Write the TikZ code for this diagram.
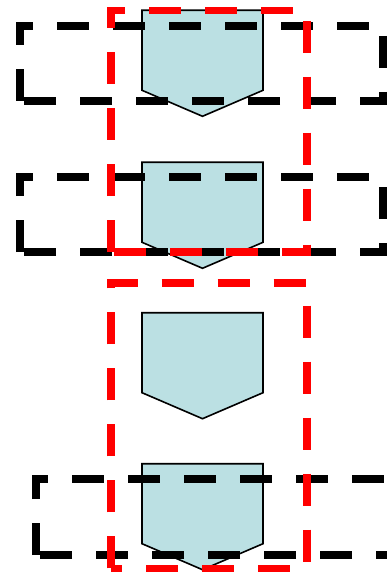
\documentclass[tikz,border=0pt]{standalone}
\usepackage{tikz}
\definecolor{PaleTeal}{RGB}{187,224,227}

\begin{document}
\begin{tikzpicture}[
  x=1pt, y=-1pt,
  tag/.style={draw=black, line width=1.6pt, fill=PaleTeal, line join=miter},
  blackframe/.style={draw=black, line width=7.5pt, dash pattern=on 32pt off 24pt},
  redframe/.style={draw=red, line width=7.5pt, dash pattern=on 32pt off 24pt}
]
  \useasboundingbox (0,0) rectangle (387,572);

  % pentagon tags
  \foreach \top in {10.3,162.3,312.7,463.7}
    \draw[tag] (142,\top) -- (263,\top) -- (263,\top+80) -- (202.5,\top+106) -- (142,\top+80) -- cycle;

  % black frames (each starts at its lower left corner)
  \draw[blackframe] (20,101) -- (20,26) -- (383,26) -- (383,101) -- cycle;
  \draw[blackframe] (20,252) -- (20,177) -- (383,177) -- (383,252) -- cycle;
  \draw[blackframe] (36,555) -- (36,479) -- (398,479) -- (398,555) -- cycle;

  % red frames
  \draw[redframe] (111,252) -- (111,10.3) -- (307,10.3) -- (307,252) -- cycle;
  \draw[redframe] (111,568.3) -- (111,283) -- (307,283) -- (307,568.3) -- cycle;
\end{tikzpicture}
\end{document}
